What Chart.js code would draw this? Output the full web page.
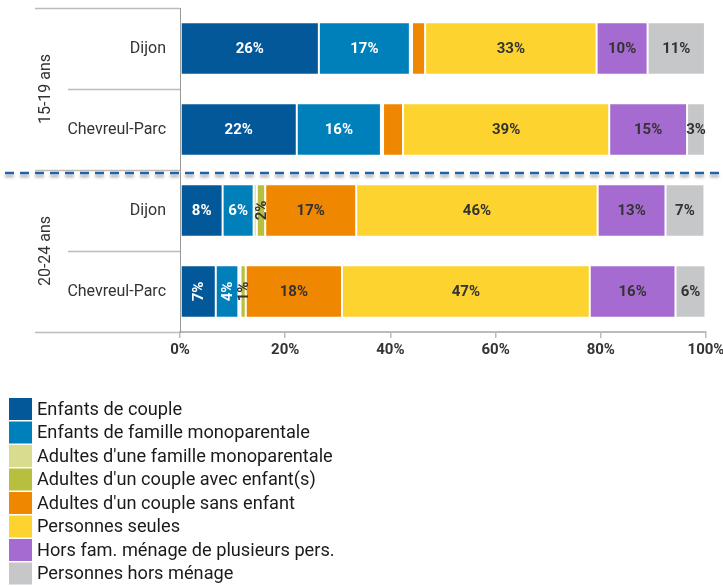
<!DOCTYPE html>
<html>
<head>
<meta charset="utf-8">
<script src="https://cdn.jsdelivr.net/npm/chart.js@4/dist/chart.umd.min.js"></script>
<style>
html, body { margin: 0; padding: 0; background: #fff; }
#wrap { width: 723px; height: 586px; position: relative; }
</style>
</head>
<body>
<div id="wrap"><canvas id="chart"></canvas></div>
<script>
// rows of the chart (top to bottom) and the age groups they belong to
var rows = ['Dijon', 'Chevreul-Parc', 'Dijon', 'Chevreul-Parc'];
var groups = ['15-19 ans', '20-24 ans'];
var xTicks = [0, 20, 40, 60, 80, 100];

var seriesNames = [
  'Enfants de couple',
  'Enfants de famille monoparentale',
  "Adultes d'une famille monoparentale",
  "Adultes d'un couple avec enfant(s)",
  "Adultes d'un couple sans enfant",
  'Personnes seules',
  'Hors fam. ménage de plusieurs pers.',
  'Personnes hors ménage'
];

// shares in %, one value per row
var enfantsCouple    = [26.4, 22.2, 8.1, 6.8];
var enfantsMono      = [17.3, 16.0, 5.9, 4.3];
var adultesMono      = [0.4, 0.4, 0.6, 0.4];
var adultesCoupleEnf = [0, 0, 1.6, 1.0];
var adultesCoupleSans = [2.5, 3.8, 17.3, 18.3];
var personnesSeules  = [32.6, 39.2, 45.9, 47.1];
var horsFamille      = [9.7, 14.8, 12.9, 16.3];
var horsMenage       = [10.9, 3.4, 7.4, 5.7];

var seriesValues = [enfantsCouple, enfantsMono, adultesMono, adultesCoupleEnf,
  adultesCoupleSans, personnesSeules, horsFamille, horsMenage];

var seriesColors = ['#03589a', '#0080bb', '#d8dc8e', '#b8bf3f',
  '#f08700', '#fdd32f', '#a56bd0', '#c6c7c9'];
var labelColors = ['#fff', '#fff', '#333', '#333', '#333', '#333', '#333', '#333'];

// "dataset:row" keys
var skipLabels = ['4:0', '4:1'];
var rotLabels = ['3:2', '0:3', '1:3', '3:3'];

Chart.defaults.font.family = 'Roboto';
Chart.defaults.color = '#333';

var datasets = [];
for (var i = 0; i < seriesNames.length; i++) {
  datasets.push({
    label: seriesNames[i],
    data: seriesValues[i],
    backgroundColor: seriesColors[i],
    borderColor: '#fff',
    borderWidth: 1,
    borderSkipped: false,
    barPercentage: 0.65,
    categoryPercentage: 1
  });
}

var decor = {
  id: 'decor',
  afterDatasetsDraw: function(chart) {
    var ctx = chart.ctx;
    ctx.save();
    ctx.font = 'bold 15px Roboto';
    ctx.textAlign = 'center';
    ctx.textBaseline = 'middle';
    chart.data.datasets.forEach(function(ds, i) {
      chart.getDatasetMeta(i).data.forEach(function(bar, j) {
        var v = ds.data[j];
        var key = i + ':' + j;
        if (v < 1 || skipLabels.indexOf(key) >= 0) return;
        ctx.fillStyle = labelColors[i];
        ctx.save();
        ctx.translate((bar.x + bar.base) / 2, bar.y);
        if (rotLabels.indexOf(key) >= 0) ctx.rotate(-Math.PI / 2);
        ctx.fillText(Math.round(v) + '%', 0, 1);
        ctx.restore();
      });
    });
    ctx.restore();
  },
  afterDraw: function(chart) {
    var ctx = chart.ctx, ys = chart.scales.y, area = chart.chartArea;
    ctx.save();

    // separators in the label area
    ctx.strokeStyle = '#bcbcbc';
    ctx.lineWidth = 1.5;
    for (var k = 0; k <= rows.length; k++) {
      var py = Math.round(ys.getPixelForValue(k - 0.5)) + 0.5;
      var x0 = (k % 2 == 0) ? 35 : 68;
      ctx.beginPath();
      ctx.moveTo(x0, py);
      ctx.lineTo(area.left, py);
      ctx.stroke();
    }

    // group labels
    ctx.fillStyle = '#333';
    ctx.font = '16px Roboto';
    ctx.textAlign = 'center';
    ctx.textBaseline = 'middle';
    groups.forEach(function(g, gi) {
      var cy = (ys.getPixelForValue(gi * 2) + ys.getPixelForValue(gi * 2 + 1)) / 2;
      ctx.save();
      ctx.translate(46, cy);
      ctx.rotate(-Math.PI / 2);
      ctx.fillText(g, 0, 0);
      ctx.restore();
    });

    // dashed line between groups
    var dy = ys.getPixelForValue(1.5) + 3;
    ctx.save();
    ctx.strokeStyle = '#1f63a6';
    ctx.lineWidth = 2.5;
    ctx.setLineDash([9, 6]);
    ctx.shadowColor = 'rgba(0,0,0,0.35)';
    ctx.shadowBlur = 3;
    ctx.shadowOffsetY = 3;
    ctx.beginPath();
    ctx.moveTo(5, dy);
    ctx.lineTo(723, dy);
    ctx.stroke();
    ctx.restore();

    // legend, one entry per line
    ctx.font = '18.2px Roboto';
    ctx.textAlign = 'left';
    ctx.textBaseline = 'middle';
    chart.data.datasets.forEach(function(ds, i) {
      var ly = 398 + i * 23.5;
      ctx.fillStyle = ds.backgroundColor;
      ctx.fillRect(9, ly, 23, 22);
      ctx.fillStyle = '#1a1a1a';
      ctx.fillText(ds.label, 37, ly + 12);
    });
    ctx.restore();
  }
};

new Chart(document.getElementById('chart'), {
  type: 'bar',
  data: { labels: rows, datasets: datasets },
  plugins: [decor],
  options: {
    indexAxis: 'y',
    responsive: true,
    maintainAspectRatio: false,
    animation: false,
    layout: { padding: { left: 0, right: 17, top: 8, bottom: 224 } },
    plugins: { legend: { display: false }, tooltip: { enabled: false } },
    scales: {
      x: {
        stacked: true,
        min: 0,
        max: 100,
        afterBuildTicks: function(s) { s.ticks = xTicks.map(function(v) { return { value: v }; }); },
        afterFit: function(s) { s.height = 30; s.paddingLeft = 0; s.paddingRight = 0; },
        ticks: {
          font: { size: 15, weight: 'bold' },
          color: '#333',
          padding: 3,
          maxRotation: 0,
          callback: function(v) { return v + '%'; }
        },
        grid: { drawOnChartArea: false, drawTicks: true, tickLength: 6, color: '#bbb', lineWidth: 1.5 },
        border: { display: true, color: '#bbb', width: 2 }
      },
      y: {
        stacked: true,
        afterFit: function(s) { s.width = 180; s.paddingTop = 0; s.paddingBottom = 0; },
        ticks: { font: { size: 16 }, color: '#333', padding: 14 },
        grid: { display: false, drawTicks: false },
        border: { display: true, color: '#999', width: 1 }
      }
    }
  }
});
</script>
</body>
</html>
